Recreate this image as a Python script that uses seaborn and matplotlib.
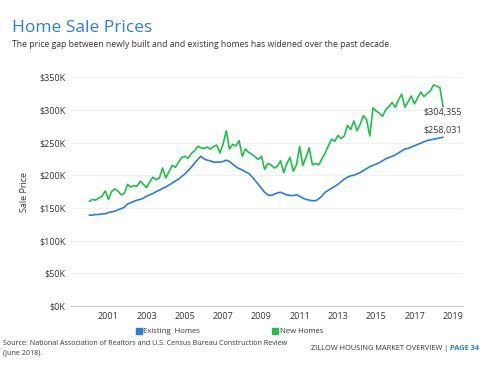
import matplotlib
matplotlib.use("Agg")
import matplotlib.pyplot as plt
from matplotlib.lines import Line2D
import seaborn as sns
import pandas as pd

# Bi-monthly samples (Jan, Mar, May, Jul, Sep, Nov), values in $K
existing_homes = [
    139, 139, 140, 140, 141, 141,   # 2000
    143, 144, 145, 147, 149, 151,   # 2001
    156, 158, 160, 162, 163, 165,   # 2002
    168, 170, 172, 175, 177, 180,   # 2003
    182, 185, 188, 191, 194, 198,   # 2004
    202, 207, 212, 218, 224, 229,   # 2005
    225, 223, 222, 220, 220, 220,   # 2006
    221, 223, 221, 217, 213, 210,   # 2007
    208, 205, 203, 198, 192, 186,   # 2008
    180, 174, 170, 169, 171, 173,   # 2009
    174, 172, 170, 169, 169, 170,   # 2010
    168, 165, 163, 162, 161, 161,   # 2011
    164, 168, 174, 177, 180, 183,   # 2012
    186, 190, 194, 197, 199, 200,   # 2013
    202, 204, 207, 210, 213, 215,   # 2014
    217, 219, 222, 225, 227, 229,   # 2015
    231, 234, 237, 240, 241, 243,   # 2016
    245, 247, 249, 251, 253, 254,   # 2017
    255, 256, 257, 258.031,         # 2018
]
new_homes = [
    160, 163, 162, 165, 168, 176,   # 2000
    163, 175, 179, 176, 170, 172,   # 2001
    186, 182, 184, 183, 191, 186,   # 2002
    181, 190, 197, 193, 196, 211,   # 2003
    196, 205, 215, 212, 220, 227,   # 2004
    229, 226, 233, 237, 244, 242,   # 2005
    241, 243, 240, 244, 246, 234,   # 2006
    248, 268, 240, 247, 245, 253,   # 2007
    229, 240, 235, 232, 228, 224,   # 2008
    229, 209, 218, 216, 211, 214,   # 2009
    222, 204, 218, 227, 206, 216,   # 2010
    244, 215, 227, 242, 216, 218,   # 2011
    216, 225, 234, 245, 255, 252,   # 2012
    261, 256, 260, 276, 270, 283,   # 2013
    268, 278, 291, 285, 260, 303,   # 2014
    298, 295, 290, 300, 305, 311,   # 2015
    304, 315, 324, 304, 312, 321,   # 2016
    309, 318, 327, 320, 325, 329,   # 2017
    338, 336, 334, 304.355,         # 2018
]
dates = pd.date_range("2000-01-01", periods=len(existing_homes), freq="2MS")
tick_years = [2001, 2003, 2005, 2007, 2009, 2011, 2013, 2015, 2017, 2019]
y_ticks = [0, 50, 100, 150, 200, 250, 300, 350]
series_names = ["Existing  Homes", "New Homes"]
last_labels = ["$258,031", "$304,355"]

BLUE = "#2a7de1"
GREEN = "#1fbf4a"
TEXT = "#333333"

df = pd.DataFrame({
    "date": list(dates) * 2,
    "value": [v * 1000 for v in existing_homes] + [v * 1000 for v in new_homes],
    "series": [series_names[0]] * len(existing_homes) + [series_names[1]] * len(new_homes),
})

sns.set_theme(style="white")
plt.rcParams["font.family"] = ["Open Sans", "DejaVu Sans"]

fig = plt.figure(figsize=(4.84, 3.67), dpi=100)
ax = fig.add_axes([0.147, 0.166, 0.810, 0.624])

sns.lineplot(data=df, x="date", y="value", hue="series",
             palette=[BLUE, GREEN], linewidth=1.2, ax=ax, legend=False)

ax.set_ylim(0, 350000)
ax.set_xlim(pd.Timestamp("1999-01-20"), pd.Timestamp("2019-07-20"))
ax.set_yticks([v * 1000 for v in y_ticks])
ax.set_yticklabels([f"${v}K" for v in y_ticks])
ax.set_xticks([pd.Timestamp(f"{y}-01-01") for y in tick_years])
ax.set_xticklabels([str(y) for y in tick_years])
ax.tick_params(axis="both", labelsize=6.5, colors=TEXT, length=0, pad=4)
ax.grid(axis="y", color="#eeeeee", linewidth=0.6)
ax.grid(axis="x", visible=False)
for s in ["top", "right", "left"]:
    ax.spines[s].set_visible(False)
ax.spines["bottom"].set_color("#cccccc")
ax.spines["bottom"].set_linewidth(0.8)
ax.set_xlabel("")
ax.set_ylabel("Sale Price", fontsize=6.5, color=TEXT, labelpad=7)

# end labels
ax.annotate(last_labels[1], xy=(dates[-1], new_homes[-1] * 1000), xytext=(19, -6),
            textcoords="offset pixels", ha="right", va="center", fontsize=6.5, color=TEXT)
ax.annotate(last_labels[0], xy=(dates[-1], existing_homes[-1] * 1000), xytext=(19, 7),
            textcoords="offset pixels", ha="right", va="center", fontsize=6.5, color=TEXT)

handles = [Line2D([], [], marker="s", linestyle="", markersize=4.5, color=c) for c in (BLUE, GREEN)]
fig.legend(handles, series_names, loc="center left", bbox_to_anchor=(0.264, 0.096),
           ncol=2, frameon=False, fontsize=5.6, handletextpad=0.1, columnspacing=9.1,
           labelcolor=TEXT, handlelength=1.0)

fig.text(0.025, 0.925, "Home Sale Prices", fontsize=12.5, color=BLUE, ha="left", va="center")
fig.text(0.025, 0.878, "The price gap between newly built and and existing homes has widened over the past decade.",
         fontsize=6.25, color=TEXT, ha="left", va="center")
fig.text(0.006, 0.065, "Source: National Association of Realtors and U.S. Census Bureau Construction Review",
         fontsize=5.1, color=TEXT, ha="left", va="center")
fig.text(0.006, 0.038, "(June 2018).", fontsize=5.1, color=TEXT, ha="left", va="center")
t2 = fig.text(0.990, 0.050, "PAGE 34", fontsize=5.3, color=BLUE, ha="right", va="center",
              fontweight="bold")
fig.canvas.draw()
bb = t2.get_window_extent()
x_start = fig.transFigure.inverted().transform((bb.x0, 0))[0]
fig.text(x_start, 0.050, "ZILLOW HOUSING MARKET OVERVIEW | ", fontsize=5.3, color=TEXT,
         ha="right", va="center")

fig.savefig("out.png", dpi=100)
